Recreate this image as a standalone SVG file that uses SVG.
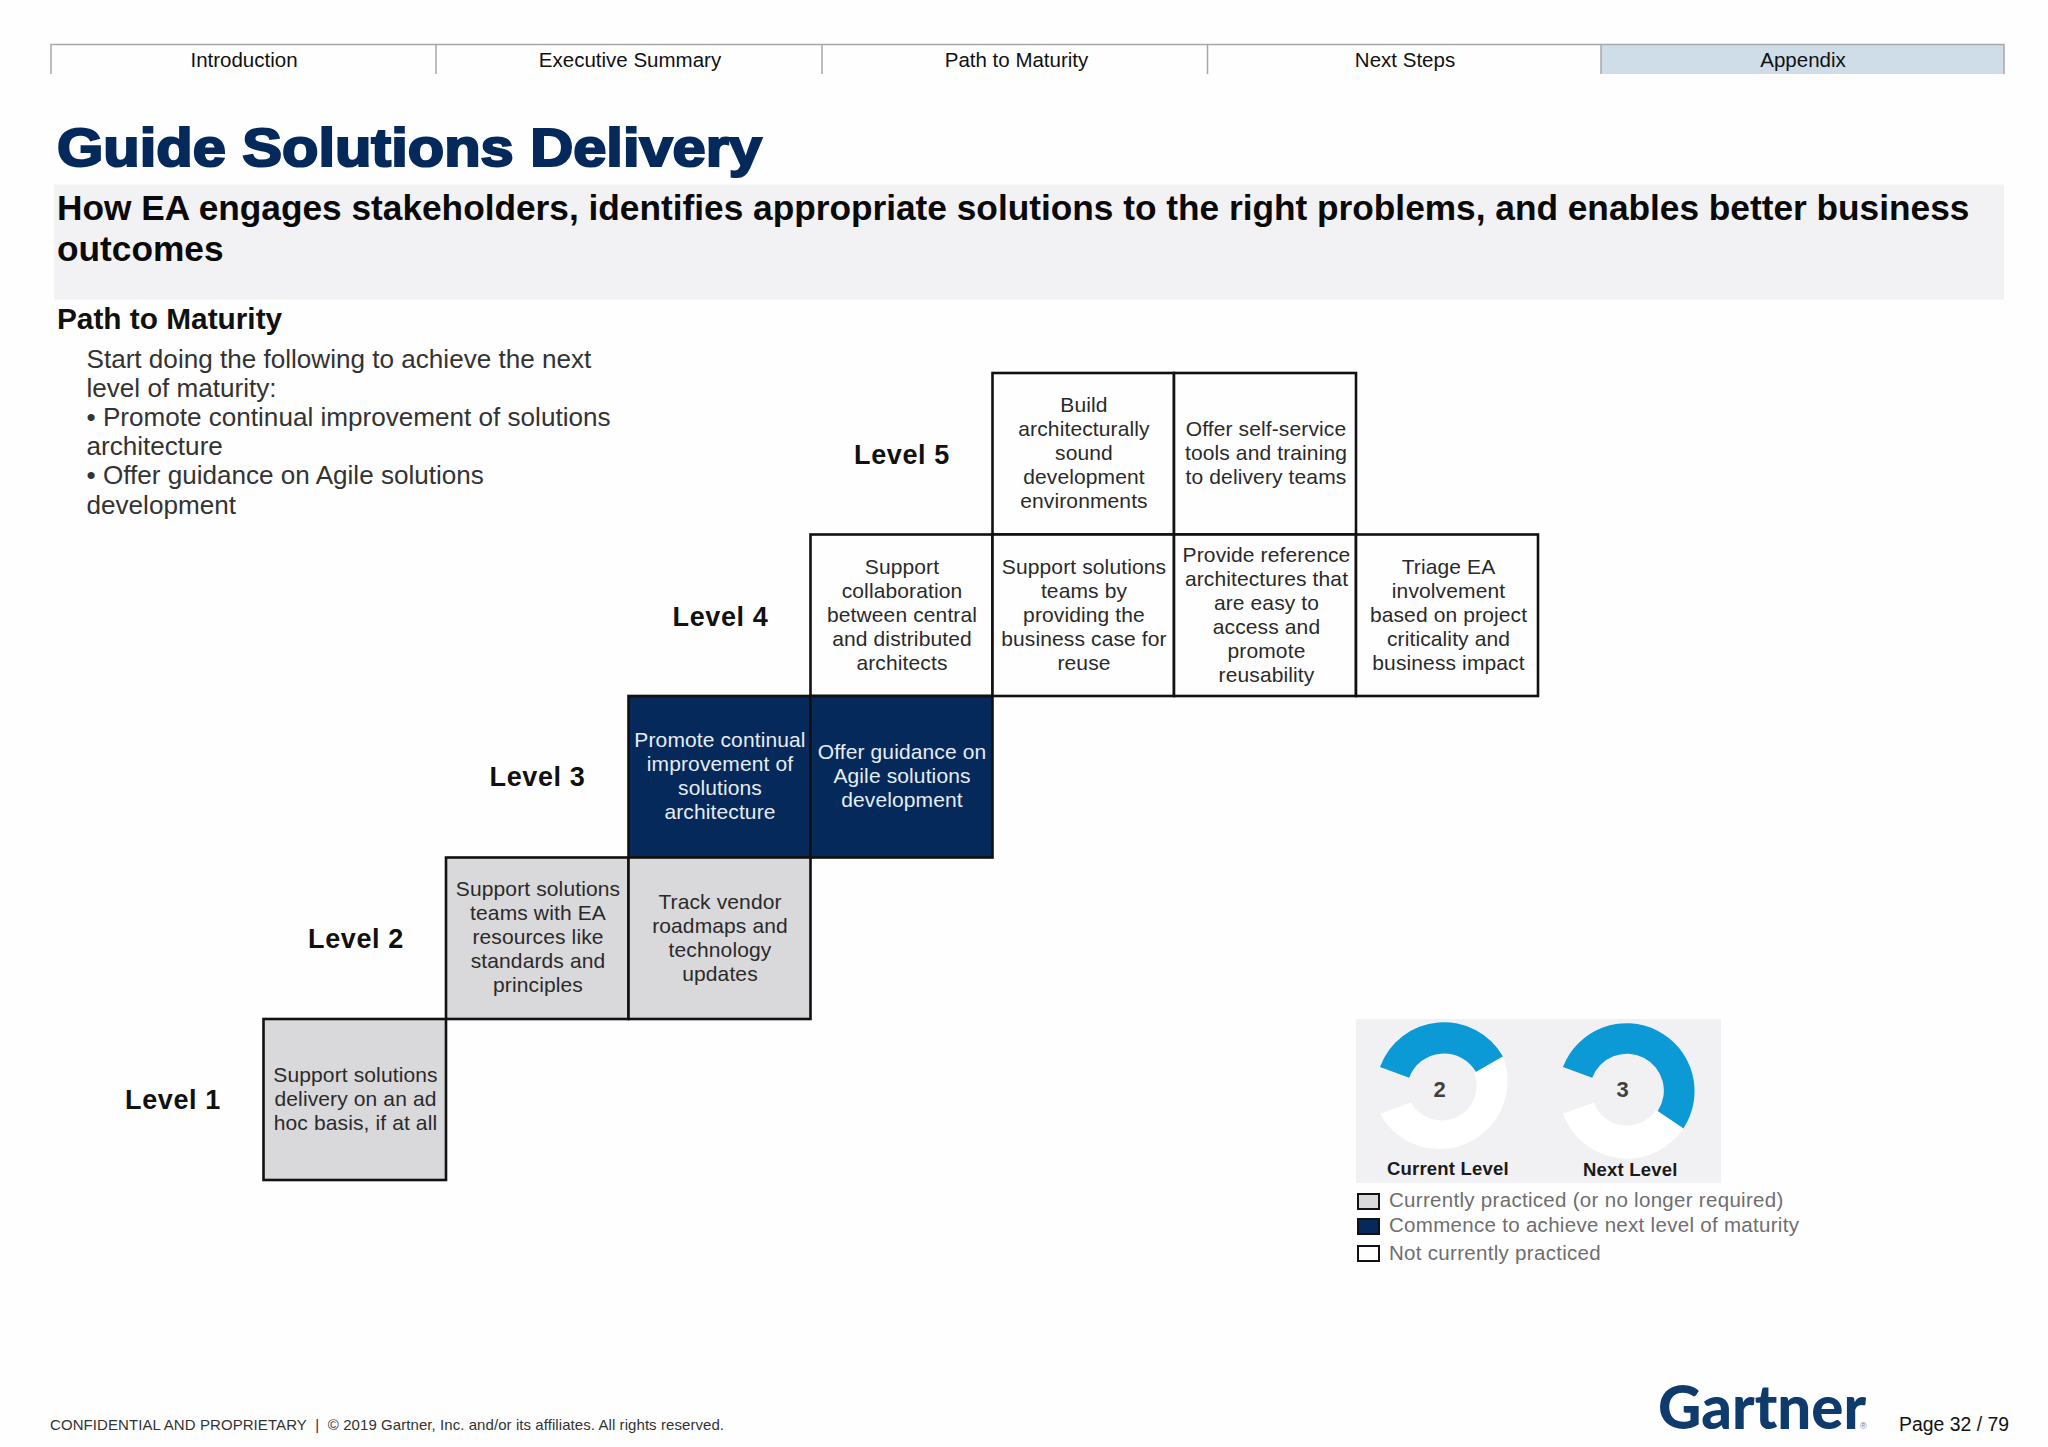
<svg xmlns="http://www.w3.org/2000/svg" width="2048" height="1447" viewBox="0 0 2048 1447">
<style>
text{font-family:"Liberation Sans",Arial,sans-serif}
.nav{font-size:20.500px;fill:#111;text-anchor:middle}
.navline{stroke:#a8a8a8;stroke-width:1.5;fill:none}
.title{font-size:54px;font-weight:700;fill:#04295a;stroke:#04295a;stroke-width:2.200px}
.sub{font-size:35.250px;font-weight:700;fill:#0a0a0a}
.h2{font-size:29.800px;font-weight:700;fill:#111}
.body{font-size:26.100px;fill:#333}
.lvl{font-size:27px;font-weight:700;fill:#111;text-anchor:middle;letter-spacing:.6px}
.cell{stroke:#111;stroke-width:2.600}
.w{fill:#fefefe}.g{fill:#d9d8db}.n{fill:#04295a}
.ct{font-size:21px;fill:#2a2a2a;text-anchor:middle;letter-spacing:.12px}
.ctw{font-size:21px;fill:#e8edf4;text-anchor:middle;letter-spacing:.12px}
.blue{fill:#0b9ad6}.wh{fill:#ffffff}
.num{font-size:22px;font-weight:700;fill:#404040;text-anchor:middle}
.dl{font-size:18.500px;font-weight:700;fill:#1a1a1a;letter-spacing:.2px}
.leg{font-size:20.500px;fill:#6e6e6e;letter-spacing:.3px}
.sw{stroke:#111;stroke-width:2}
</style>
<rect width="2048" height="1447" fill="#fefefe"/>
<g id="nav">
<rect x="1601" y="44.500" width="403" height="29.500" fill="#cfdde9"/>
<path class="navline" d="M51 74V44.500H2004V74M436 44.500V74M822 44.500V74M1207.500 44.500V74M1601 44.500V74"/>
<text class="nav" x="244" y="67">Introduction</text>
<text class="nav" x="630" y="67">Executive Summary</text>
<text class="nav" x="1016.500" y="67">Path to Maturity</text>
<text class="nav" x="1405" y="67">Next Steps</text>
<text class="nav" x="1803" y="67">Appendix</text>
</g>
<g id="header">
<text class="title" x="57" y="166" textLength="705" lengthAdjust="spacingAndGlyphs">Guide Solutions Delivery</text>
<rect x="54" y="184.500" width="1950" height="115" fill="#f2f1f4"/>
<text class="sub" x="57" y="220">How EA engages stakeholders, identifies appropriate solutions to the right problems, and enables better business</text>
<text class="sub" x="57" y="261">outcomes</text>
<text class="h2" x="57" y="329">Path to Maturity</text>
</g>
<g id="intro">
<text class="body" x="86.500" y="367.500">Start doing the following to achieve the next</text>
<text class="body" x="86.500" y="396.500">level of maturity:</text>
<text class="body" x="86.500" y="425.500">• Promote continual improvement of solutions</text>
<text class="body" x="86.500" y="454.500">architecture</text>
<text class="body" x="86.500" y="483.500">• Offer guidance on Agile solutions</text>
<text class="body" x="86.500" y="513.500">development</text>
</g>
<g id="level-labels">
<text class="lvl" x="902" y="464">Level 5</text>
<text class="lvl" x="720.500" y="626">Level 4</text>
<text class="lvl" x="537.500" y="786">Level 3</text>
<text class="lvl" x="356" y="948">Level 2</text>
<text class="lvl" x="173" y="1109">Level 1</text>
</g>
<g id="cell-l5-1"><rect class="cell w" x="992.500" y="373" width="181.500" height="161.500"/>
<text class="ct" x="1084" y="412">Build</text><text class="ct" x="1084" y="436">architecturally</text><text class="ct" x="1084" y="460">sound</text><text class="ct" x="1084" y="484">development</text><text class="ct" x="1084" y="508">environments</text></g>
<g id="cell-l5-2"><rect class="cell w" x="1174" y="373" width="182" height="161.500"/>
<text class="ct" x="1266" y="436">Offer self-service</text><text class="ct" x="1266" y="460">tools and training</text><text class="ct" x="1266" y="484">to delivery teams</text></g>
<g id="cell-l4-1"><rect class="cell w" x="810.500" y="534.500" width="182" height="161.500"/>
<text class="ct" x="902" y="574">Support</text><text class="ct" x="902" y="598">collaboration</text><text class="ct" x="902" y="622">between central</text><text class="ct" x="902" y="646">and distributed</text><text class="ct" x="902" y="670">architects</text></g>
<g id="cell-l4-2"><rect class="cell w" x="992.500" y="534.500" width="181.500" height="161.500"/>
<text class="ct" x="1084" y="574">Support solutions</text><text class="ct" x="1084" y="598">teams by</text><text class="ct" x="1084" y="622">providing the</text><text class="ct" x="1084" y="646">business case for</text><text class="ct" x="1084" y="670">reuse</text></g>
<g id="cell-l4-3"><rect class="cell w" x="1174" y="534.500" width="182" height="161.500"/>
<text class="ct" x="1266.500" y="562">Provide reference</text><text class="ct" x="1266.500" y="586">architectures that</text><text class="ct" x="1266.500" y="610">are easy to</text><text class="ct" x="1266.500" y="634">access and</text><text class="ct" x="1266.500" y="658">promote</text><text class="ct" x="1266.500" y="682">reusability</text></g>
<g id="cell-l4-4"><rect class="cell w" x="1356" y="534.500" width="182" height="161.500"/>
<text class="ct" x="1448.500" y="574">Triage EA</text><text class="ct" x="1448.500" y="598">involvement</text><text class="ct" x="1448.500" y="622">based on project</text><text class="ct" x="1448.500" y="646">criticality and</text><text class="ct" x="1448.500" y="670">business impact</text></g>
<g id="cell-l3-1"><rect class="cell n" x="628.500" y="696" width="182" height="161.500"/>
<text class="ctw" x="720" y="747">Promote continual</text><text class="ctw" x="720" y="771">improvement of</text><text class="ctw" x="720" y="795">solutions</text><text class="ctw" x="720" y="819">architecture</text></g>
<g id="cell-l3-2"><rect class="cell n" x="810.500" y="696" width="182" height="161.500"/>
<text class="ctw" x="902" y="758.500">Offer guidance on</text><text class="ctw" x="902" y="782.500">Agile solutions</text><text class="ctw" x="902" y="806.500">development</text></g>
<g id="cell-l2-1"><rect class="cell g" x="446" y="857.500" width="182.500" height="161.500"/>
<text class="ct" x="538" y="896">Support solutions</text><text class="ct" x="538" y="920">teams with EA</text><text class="ct" x="538" y="944">resources like</text><text class="ct" x="538" y="968">standards and</text><text class="ct" x="538" y="992">principles</text></g>
<g id="cell-l2-2"><rect class="cell g" x="628.500" y="857.500" width="182" height="161.500"/>
<text class="ct" x="720" y="908.500">Track vendor</text><text class="ct" x="720" y="932.500">roadmaps and</text><text class="ct" x="720" y="956.500">technology</text><text class="ct" x="720" y="980.500">updates</text></g>
<g id="cell-l1-1"><rect class="cell g" x="263.500" y="1019" width="182.500" height="161"/>
<text class="ct" x="355.500" y="1082">Support solutions</text><text class="ct" x="355.500" y="1106">delivery on an ad</text><text class="ct" x="355.500" y="1130">hoc basis, if at all</text></g>
<g id="level-panel">
<rect x="1356" y="1019" width="365" height="164" fill="#f1f0f3"/>
<g id="gauge-current" transform="translate(-1 0)">
<path class="blue" d="M1381 1067 A68 68 0 0 1 1504 1056.500 L1477 1072 A37 37 0 0 0 1410.200 1077.800 Z"/>
<path class="wh" d="M1504 1056.500 A68 68 0 0 1 1381 1113.800 L1412 1102.500 A35 35 0 0 0 1475.300 1073 Z"/>
</g>
<text class="num" x="1439.500" y="1097">2</text>
<g id="gauge-next" transform="translate(-3 0)">
<path class="blue" d="M1566 1067 A68 68 0 1 1 1686.400 1128.500 L1660.700 1111.200 A37 37 0 1 0 1595.200 1077.800 Z"/>
<path class="wh" d="M1686.400 1128.500 A68 68 0 0 1 1566 1113.800 L1597 1102.500 A35 35 0 0 0 1659 1110.100 Z"/>
</g>
<text class="num" x="1622.500" y="1097">3</text>
<text class="dl" x="1387" y="1175">Current Level</text>
<text class="dl" x="1583" y="1176">Next Level</text>
</g>
<g id="legend">
<rect class="sw g" x="1358" y="1194" width="21" height="15"/>
<rect class="sw n" x="1358" y="1219" width="21" height="15"/>
<rect class="sw w" x="1358" y="1246" width="21" height="15"/>
<text class="leg" x="1389" y="1207">Currently practiced (or no longer required)</text>
<text class="leg" x="1389" y="1232">Commence to achieve next level of maturity</text>
<text class="leg" x="1389" y="1260">Not currently practiced</text>
</g>
<g id="footer">
<text x="50" y="1430" font-size="15" fill="#333" textLength="674">CONFIDENTIAL AND PROPRIETARY&#160;&#160;|&#160; © 2019 Gartner, Inc. and/or its affiliates. All rights reserved.</text>
<text x="1658" y="1429" font-size="60" font-weight="900" fill="#0e3a6c" style="font-family:Lato,'Liberation Sans',sans-serif" textLength="208" lengthAdjust="spacingAndGlyphs">Gartner</text>
<text x="1860" y="1429" font-size="9" fill="#777">®</text>
<text x="1899" y="1431" font-size="19.400" fill="#111">Page 32 / 79</text>
</g>
</svg>
